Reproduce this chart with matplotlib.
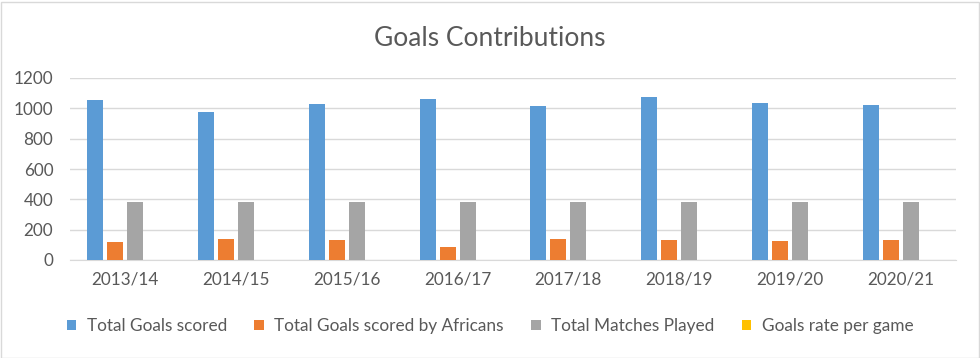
import matplotlib.pyplot as plt
import numpy as np
from matplotlib.patches import Rectangle

seasons = ['2013/14', '2014/15', '2015/16', '2016/17', '2017/18', '2018/19', '2019/20', '2020/21']
total_goals = [1052, 975, 1026, 1064, 1018, 1072, 1034, 1024]
african_goals = [117, 137, 130, 85, 137, 130, 122, 130]
matches = [380, 380, 380, 380, 380, 380, 380, 380]
goal_rate = [2.77, 2.57, 2.70, 2.80, 2.68, 2.82, 2.72, 2.69]

series = [
    ('Total Goals scored', total_goals, '#5B9BD5'),
    ('Total Goals scored by Africans', african_goals, '#ED7D31'),
    ('Total Matches Played', matches, '#A5A5A5'),
    ('Goals rate per game', goal_rate, '#FFC000'),
]

plt.rcParams['font.family'] = ['Lato', 'DejaVu Sans']
txt = '#595959'

fig = plt.figure(figsize=(9.8, 3.58), dpi=100)
ax = fig.add_axes([70 / 980, 1 - 260 / 358, (956 - 70) / 980, (260 - 78) / 358])

x = np.arange(len(seasons))
w = 0.1445
step = 0.1806
for i, (name, vals, col) in enumerate(series):
    ax.bar(x + (i - 1.5) * step, vals, width=w, color=col, label=name, zorder=3)

ax.set_xlim(-0.5, len(seasons) - 0.5)
ax.set_ylim(0, 1200)
ax.set_yticks(range(0, 1201, 200))
ax.set_xticks(x)
ax.set_xticklabels(seasons)
ax.grid(axis='y', color='#D9D9D9', linewidth=1, zorder=0)
ax.tick_params(axis='both', length=0, labelsize=12.3, colors=txt)
ax.tick_params(axis='x', pad=8)
ax.tick_params(axis='y', pad=12)
for s in ['top', 'right', 'left']:
    ax.spines[s].set_visible(False)
ax.spines['bottom'].set_color('#D9D9D9')

fig.text(0.5, 1 - 38 / 358, 'Goals Contributions', ha='center', va='center', fontsize=19, color=txt)

fig.legend(loc='center', bbox_to_anchor=(0.5, 1 - 326 / 358), ncol=4, frameon=False,
           fontsize=12.4, handlelength=0.55, handleheight=0.55, handletextpad=0.6,
           columnspacing=1.6, labelcolor=txt)

fig.patches.append(Rectangle((0.5 / 980, 0.5 / 358), 978 / 980, 356 / 358, transform=fig.transFigure,
                             fill=False, edgecolor='#D9D9D9', linewidth=1))

fig.savefig('out.png', dpi=100, facecolor='white')
